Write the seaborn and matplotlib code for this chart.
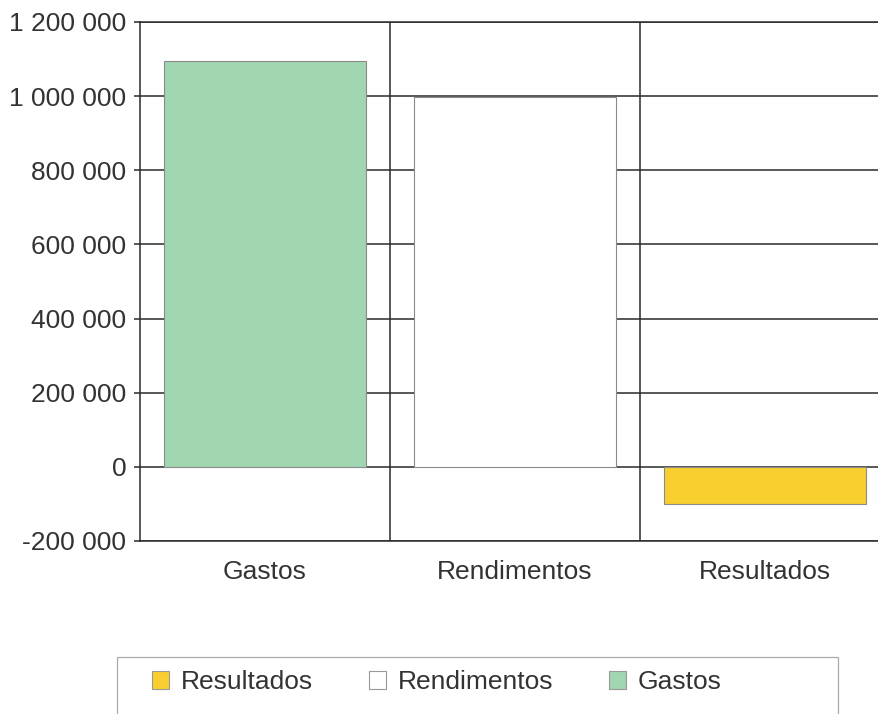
import seaborn as sns
import numpy as np
import matplotlib.pyplot as plt
import pandas as pd
from matplotlib.patches import Patch, Rectangle

# valores
categorias = ['Gastos', 'Rendimentos', 'Resultados']
valores = [1095000, 998000, -100000]
cores = ['#a0d6b0', '#ffffff', '#f8cf2e']
ordem_legenda = ['Resultados', 'Rendimentos', 'Gastos']
yticks = [-200000, 0, 200000, 400000, 600000, 800000, 1000000, 1200000]

sns.set_style('white')
plt.rcParams['font.family'] = ['Liberation Sans', 'DejaVu Sans']

df = pd.DataFrame({'cat': categorias, 'val': valores})
pal = dict(zip(categorias, cores))

fig = plt.figure(figsize=(8.79, 7.14), dpi=100)
ax = fig.add_axes([0.1593, 0.2423, 0.8532, 0.7269])
sns.barplot(data=df, x='cat', y='val', hue='cat', palette=pal, width=0.81,
            saturation=1, edgecolor='#8a8a8a', linewidth=0.8, legend=False,
            ax=ax, zorder=3)

ax.set_xlim(-0.5, 2.5)
ax.set_ylim(-200000, 1200000)
ax.set_yticks(yticks)
ax.set_yticklabels([f'{v:,}'.replace(',', ' ') for v in yticks])
ax.set_xticks([0.5, 1.5], minor=True)
ax.set_axisbelow(True)
ax.grid(True, axis='y', which='major', color='#2a2a2a', lw=1.1)
ax.grid(True, axis='x', which='minor', color='#2a2a2a', lw=1.1)
ax.grid(False, axis='x', which='major')
ax.set_xlabel('')
ax.set_ylabel('')
ax.tick_params(axis='x', which='both', length=0, pad=14, labelsize=19, labelcolor='#333333')
ax.tick_params(axis='y', length=4, width=1.1, color='#2a2a2a', pad=6,
               labelsize=19, labelcolor='#333333', left=True)
for s in ax.spines.values():
    s.set_color('#2a2a2a')
    s.set_linewidth(1.1)

handles = [Patch(facecolor=pal[c], edgecolor='#999999', lw=0.8) for c in ordem_legenda]
fig.legend(handles, ordem_legenda, loc='center left',
           bbox_to_anchor=(152 / 879, 1 - 682 / 714), ncol=3, frameon=False,
           fontsize=19, handlelength=0.65, handleheight=0.65, handletextpad=0.45,
           columnspacing=2.1, borderpad=0, borderaxespad=0, labelcolor='#333333')
fig.add_artist(Rectangle((117 / 879, -0.05), 721 / 879, 0.05 + 1 - 657 / 714,
                         transform=fig.transFigure, fill=False,
                         edgecolor='#aaaaaa', lw=0.9))

fig.savefig('out.png', dpi=100)
